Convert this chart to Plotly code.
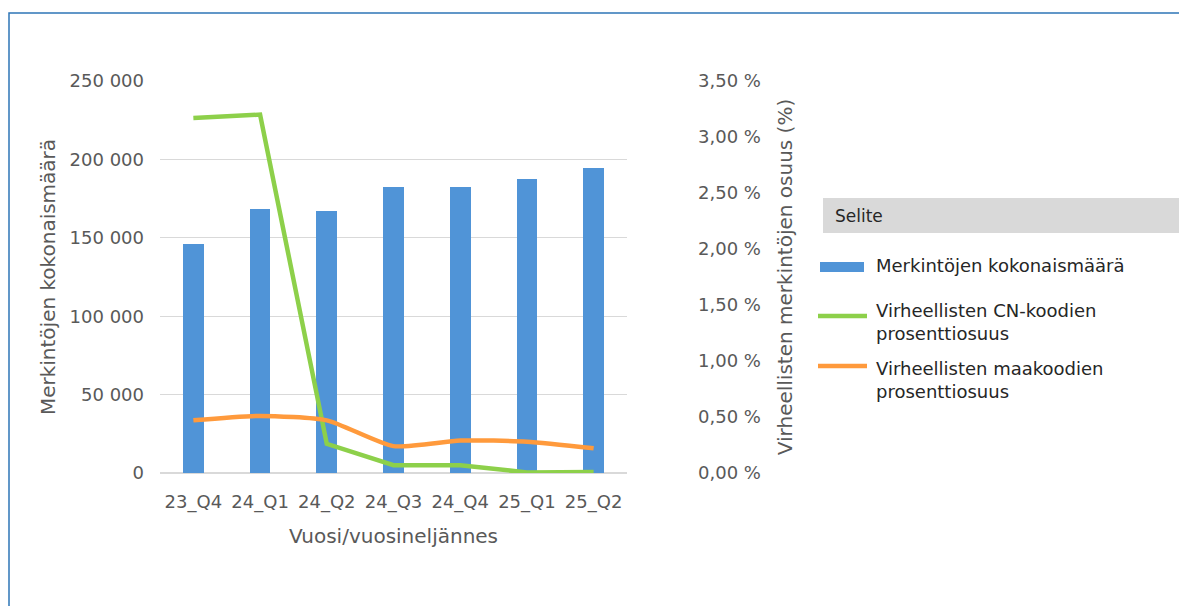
import plotly.graph_objects as go

# --- DATA ---
quarters = ["23_Q4", "24_Q1", "24_Q2", "24_Q3", "24_Q4", "25_Q1", "25_Q2"]
entries_total = [145800, 168100, 167000, 182700, 182700, 187400, 194200]
cn_error_pct = [3.17, 3.20, 0.26, 0.07, 0.07, 0.005, 0.01]
country_error_pct = [0.47, 0.51, 0.47, 0.24, 0.29, 0.28, 0.22]

left_ticks = [0, 50000, 100000, 150000, 200000, 250000]
right_ticks = [0, 0.5, 1.0, 1.5, 2.0, 2.5, 3.0, 3.5]
right_labels = [f"{v:.2f}".replace(".", ",") + " %" for v in right_ticks]

BLUE = "#5094D7"
GREEN = "#8DD04A"
ORANGE = "#FF9A3C"
GRAY = "#595959"
FONT = "DejaVu Sans"

# --- LAYOUT GEOMETRY (pixels, page body has an 8px margin) ---
W, H = 1187, 606
OFF = 8
L, T = 160 - OFF, 81 - OFF
PW, PH = 467, 392
R = W - L - PW
B = H - T - PH


def px(x):
    return (x - OFF - L) / PW


def py(y):
    return (T + PH - (y - OFF)) / PH


fig = go.Figure()

fig.add_trace(go.Bar(
    x=quarters, y=entries_total, name="Merkintöjen kokonaismäärä",
    marker=dict(color=BLUE, line=dict(width=0)), width=0.31, yaxis="y",
))
fig.add_trace(go.Scatter(
    x=quarters, y=cn_error_pct, name="Virheellisten CN-koodien prosenttiosuus",
    mode="lines", line=dict(color=GREEN, width=4.5), yaxis="y2",
))
fig.add_trace(go.Scatter(
    x=quarters, y=country_error_pct, name="Virheellisten maakoodien prosenttiosuus",
    mode="lines", line=dict(color=ORANGE, width=4.5, shape="spline", smoothing=0.6), yaxis="y2",
))

# --- manual legend (Excel style) ---
shapes = [
    # outer border
    dict(type="rect", xref="paper", yref="paper", x0=px(9), x1=px(1200), y0=py(630), y1=py(13),
         line=dict(color="#2E75B6", width=1.5), fillcolor="rgba(0,0,0,0)", layer="below"),
    # legend header
    dict(type="rect", xref="paper", yref="paper", x0=px(823), x1=px(1200), y0=py(233), y1=py(198),
         line=dict(width=0), fillcolor="#D9D9D9", layer="below"),
    dict(type="rect", xref="paper", yref="paper", x0=px(820), x1=px(864), y0=py(272), y1=py(262),
         line=dict(width=0), fillcolor=BLUE),
    dict(type="line", xref="paper", yref="paper", x0=px(818), x1=px(867), y0=py(316), y1=py(316),
         line=dict(color=GREEN, width=4.5)),
    dict(type="line", xref="paper", yref="paper", x0=px(818), x1=px(867), y0=py(366), y1=py(366),
         line=dict(color=ORANGE, width=4.5)),
]

legend_texts = [
    ("Selite", 833, 216, 17),
    ("Merkintöjen kokonaismäärä", 874, 265, 18),
    ("Virheellisten CN-koodien<br>prosenttiosuus", 874, 322, 18),
    ("Virheellisten maakoodien<br>prosenttiosuus", 874, 380, 18),
]
annotations = [
    dict(text=t, x=px(x), y=py(y), xref="paper", yref="paper", xanchor="left", yanchor="middle",
         align="left", showarrow=False, font=dict(family=FONT, size=s, color="#262626"))
    for t, x, y, s in legend_texts
]

fig.update_layout(
    width=W, height=H,
    margin=dict(l=L, r=R, t=T, b=B),
    paper_bgcolor="white", plot_bgcolor="white",
    separators=", ",
    showlegend=False,
    bargap=0,
    font=dict(family=FONT, size=18, color=GRAY),
    shapes=shapes,
    annotations=annotations,
    xaxis=dict(
        showgrid=False, showline=False, ticks="", zeroline=False,
        tickfont=dict(size=18, color=GRAY), ticklabelstandoff=16,
        title=dict(text="Vuosi/vuosineljännes", font=dict(size=20, color=GRAY), standoff=16),
    ),
    yaxis=dict(
        range=[0, 250000], tickvals=left_ticks, tickformat=",d",
        showgrid=True, gridcolor="#D9D9D9", gridwidth=1, zeroline=True, zerolinecolor="#D9D9D9",
        showline=False, ticks="", ticklabelstandoff=15,
        tickfont=dict(size=18, color=GRAY),
        title=dict(text="Merkintöjen kokonaismäärä", font=dict(size=20, color=GRAY), standoff=8),
    ),
    yaxis2=dict(
        range=[0, 3.5], tickvals=right_ticks, ticktext=right_labels,
        overlaying="y", side="right", showgrid=False, zeroline=False, showline=False, ticks="",
        ticklabelstandoff=70, tickfont=dict(size=18, color=GRAY),
        title=dict(text="Virheellisten merkintöjen osuus (%)", font=dict(size=20, color=GRAY), standoff=18),
    ),
)

fig.write_html("out.html")
